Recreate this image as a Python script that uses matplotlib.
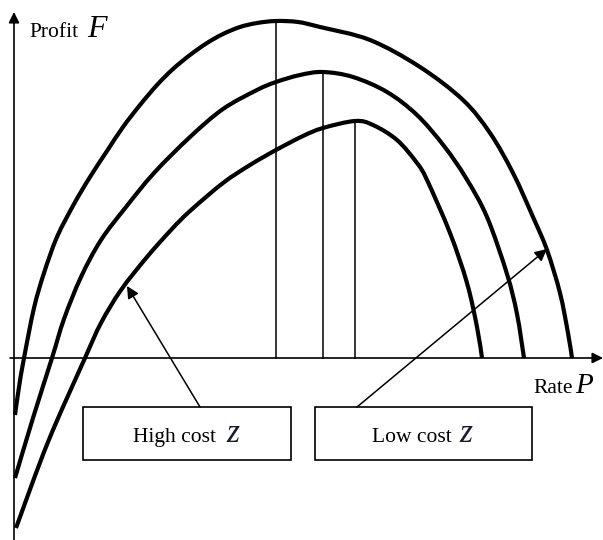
import matplotlib
matplotlib.use("Agg")
import matplotlib.pyplot as plt
from matplotlib.patches import Rectangle, PathPatch
from matplotlib.path import Path
import numpy as np

# ---- data (Rate P, Profit F) ----
low_rate = [1, 5, 10, 20, 30, 43, 60, 76, 93, 109, 126, 143, 159, 176, 193, 209, 226,
            243, 262, 284, 306, 356, 406, 449, 476, 499, 519, 533, 546, 554, 558]
low_profit = [-57, -29, 0, 50, 85, 121, 154, 181, 207, 231, 253, 273, 289, 303, 315, 324, 331,
              335, 337, 336, 331, 318, 291, 258, 225, 185, 141, 108, 65, 25, 0]

mid_rate = [1, 19, 38, 50, 67, 87, 112, 140, 176, 209, 243, 262, 286, 309,
            339, 373, 403, 430, 452, 473, 493, 503, 510]
mid_profit = [-120, -60, 0, 39, 81, 118, 151, 185, 221, 249, 268, 276, 283, 286,
              281, 266, 243, 212, 180, 141, 84, 44, 0]

high_rate = [2, 34, 71, 87, 107, 133, 157, 176, 209, 236, 262, 289, 309, 341,
             359, 383, 403, 413, 436, 453, 463, 468]
high_profit = [-170, -84, 0, 35, 68, 101, 128, 147, 175, 193, 208, 222, 230, 237,
               233, 218, 195, 178, 125, 75, 31, 0]

labels = ["High cost", "Low cost"]
axis_labels = ["Profit", "Rate"]

serif = "Liberation Serif"


def smooth_path(xs, ys):
    """Catmull-Rom curve through the given points, as cubic Bezier segments."""
    pts = np.column_stack([xs, ys]).astype(float)
    n = len(pts)
    verts = [pts[0]]
    codes = [Path.MOVETO]
    for i in range(n - 1):
        p0 = pts[i - 1] if i > 0 else pts[i]
        p1 = pts[i]
        p2 = pts[i + 1]
        p3 = pts[i + 2] if i + 2 < n else pts[i + 1]
        c1 = p1 + (p2 - p0) / 6.0
        c2 = p2 - (p3 - p1) / 6.0
        verts += [c1, c2, p2]
        codes += [Path.CURVE4] * 3
    return Path(verts, codes)


fig = plt.figure(figsize=(6.03, 5.40), dpi=100)
ax = fig.add_axes([0, 0, 1, 1])
ax.set_xlim(-14, 589)
ax.set_ylim(-182, 358)
ax.axis("off")

# axes with arrows
ax.annotate("", xy=(0, 346), xytext=(0, -182),
            arrowprops=dict(arrowstyle="-|>", color="black", lw=1.2,
                            mutation_scale=16, shrinkA=0, shrinkB=0))
ax.annotate("", xy=(589, 0), xytext=(-4, 0),
            arrowprops=dict(arrowstyle="-|>", color="black", lw=1.2,
                            mutation_scale=16, shrinkA=0, shrinkB=0))

# curves and peak verticals
for r, p in [(low_rate, low_profit), (mid_rate, mid_profit), (high_rate, high_profit)]:
    ax.add_patch(PathPatch(smooth_path(r, p), fill=False, edgecolor="black", lw=3.0,
                           joinstyle="round", capstyle="butt"))
    i = int(np.argmax(p))
    ax.plot([r[i], r[i]], [0, p[i]], color="black", lw=1.1)

# boxes
box_high = (69, -102, 208, 53)
box_low = (301, -102, 217, 53)
for (x0, y0, w, h) in [box_high, box_low]:
    ax.add_patch(Rectangle((x0, y0), w, h, fill=False, edgecolor="black", lw=1.2))

# arrows from boxes to curves
ax.annotate("", xy=(113, 72), xytext=(186, -49),
            arrowprops=dict(arrowstyle="-|>", color="black", lw=1.1,
                            mutation_scale=18, shrinkA=0, shrinkB=0))
ax.annotate("", xy=(533, 109), xytext=(343, -49),
            arrowprops=dict(arrowstyle="-|>", color="black", lw=1.1,
                            mutation_scale=18, shrinkA=0, shrinkB=0))

# texts
ax.text(15, 321, axis_labels[0], family=serif, fontsize=15.5, va="baseline", ha="left")
ax.text(73, 321, "F", family=serif, style="italic", fontsize=23, va="baseline", ha="left")
ax.text(519, -35, axis_labels[1], family=serif, fontsize=15.5, va="baseline", ha="left")
ax.text(561, -35, "P", family=serif, style="italic", fontsize=21, va="baseline", ha="left")

ax.text(119, -84, labels[0], family=serif, fontsize=15.5, va="baseline", ha="left")
ax.text(212, -84, "z", family=serif, style="italic", fontsize=24, va="baseline", ha="left",
        color="#1a1a33")
ax.text(358, -84, labels[1], family=serif, fontsize=15.5, va="baseline", ha="left")
ax.text(445, -84, "z", family=serif, style="italic", fontsize=24, va="baseline", ha="left",
        color="#1a1a33")

fig.savefig("out.png", dpi=100)
